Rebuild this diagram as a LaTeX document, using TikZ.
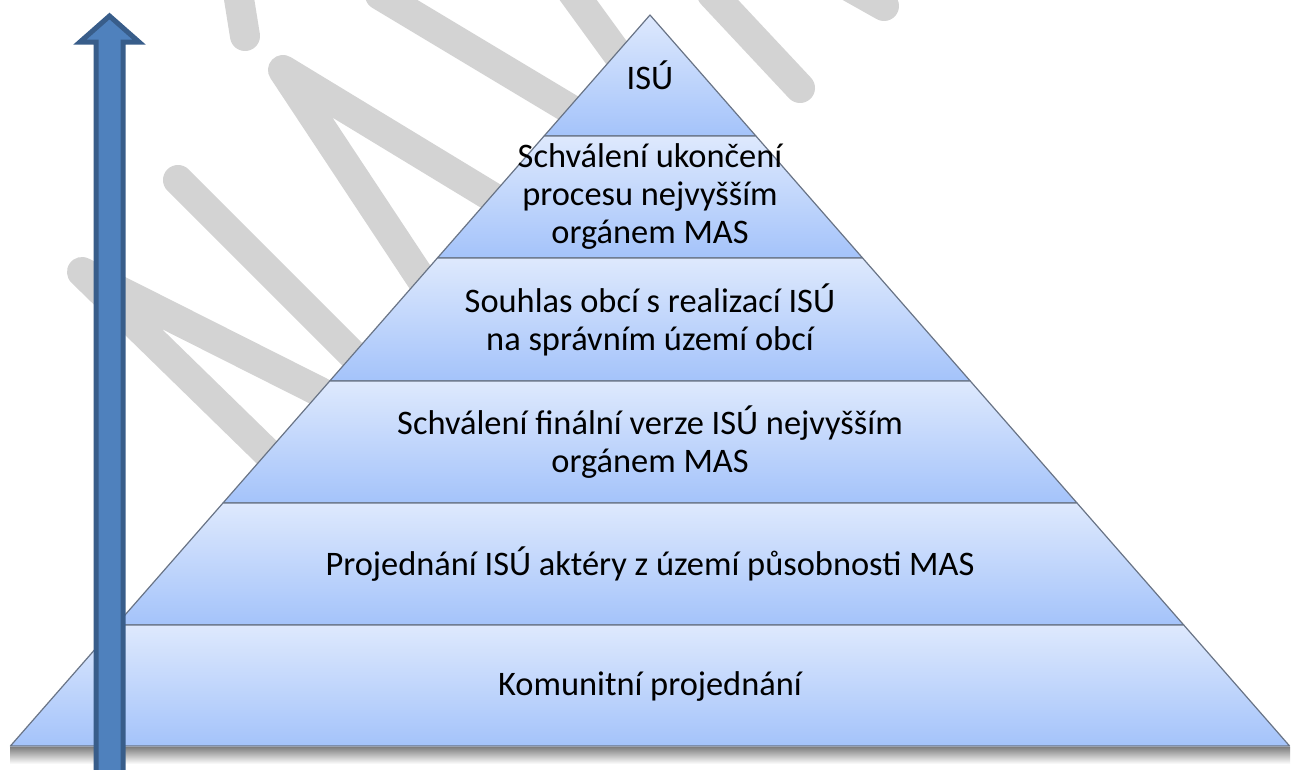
\documentclass[tikz,border=0pt]{standalone}
\usepackage{fontspec}
\setmainfont{Carlito}
\definecolor{layertop}{RGB}{222,233,253}
\definecolor{layerbottom}{RGB}{164,195,250}
\definecolor{layeredge}{RGB}{105,116,134}
\definecolor{arrowfill}{RGB}{79,129,189}
\definecolor{arrowedge}{RGB}{56,93,138}
\definecolor{markgray}{RGB}{211,211,211}
\begin{document}
\begin{tikzpicture}[x=1pt, y=-1pt, style={
    layerstyle/.style={
      top color=layertop,
      bottom color=layerbottom,
      draw=layeredge,
      line width=1.2pt,
      line join=round,
    },
    labelstyle/.style={
      align=center,
      font=\fontsize{34.4}{38}\selectfont,
      inner sep=0pt,
    },
    markstroke/.style={
      draw=markgray, line width=30pt,
      line cap=round, line join=round,
    },
    bigarrow/.style={
      fill=arrowfill, draw=arrowedge,
      line width=5pt, line join=miter,
    }
  }]
  \useasboundingbox (0,0) rectangle (1300,769);
  \clip (0,0) rectangle (1300,769);
  \fill[white] (0,0) rectangle (1300,769);

  % watermark
  \draw[markstroke] (236,-20) -- (245,36);
  \draw[markstroke] (530,220) -- (283,70) -- (445,315);
  \draw[markstroke] (178,180) -- (400,402);
  \draw[markstroke] (350,407) -- (82,272) -- (290,475);
  \draw[markstroke] (380,-5) -- (600,127);
  \draw[markstroke] (568,-14) -- (640,85);
  \draw[markstroke] (712,-6) -- (800,88);
  \draw[markstroke] (820,-30) -- (884,6);

  % shadow under the base
  \shade[top color=black!50, bottom color=white] (10,747) rectangle (1290,764);

  % pyramid layers
  \draw[layerstyle] (650,15) -- (755.9,136) -- (544.1,136) -- cycle;
  \draw[layerstyle] (544.1,136) -- (755.9,136) -- (862.6,258) -- (437.4,258) -- cycle;
  \draw[layerstyle] (437.4,258) -- (862.6,258) -- (970.25,381) -- (329.75,381) -- cycle;
  \draw[layerstyle] (329.75,381) -- (970.25,381) -- (1077,503) -- (223,503) -- cycle;
  \draw[layerstyle] (223,503) -- (1077,503) -- (1183.75,625) -- (116.25,625) -- cycle;
  \draw[layerstyle] (116.25,625) -- (1183.75,625) -- (1289.6,746) -- (10.4,746) -- cycle;

  \node[labelstyle] (isu) at (650,75) {ISÚ};
  \node[labelstyle] (ukonceni) at (650,197) {Schválení ukončení\\procesu nejvyšším\\orgánem MAS};
  \node[labelstyle] (souhlas) at (650,320) {Souhlas obcí s realizací ISÚ\\na správním území obcí};
  \node[labelstyle] (finalni) at (650,442) {Schválení finální verze ISÚ nejvyšším\\orgánem MAS};
  \node[labelstyle] (aktery) at (650,564) {Projednání ISÚ aktéry z území působnosti MAS};
  \node[labelstyle] (komunitni) at (650,686) {Komunitní projednání};

  % rising arrow
  \draw[bigarrow] (96,800) -- (96,42) -- (80,42) -- (109.5,16)
    -- (139,42) -- (123,42) -- (123,800) -- cycle;
\end{tikzpicture}
\end{document}
